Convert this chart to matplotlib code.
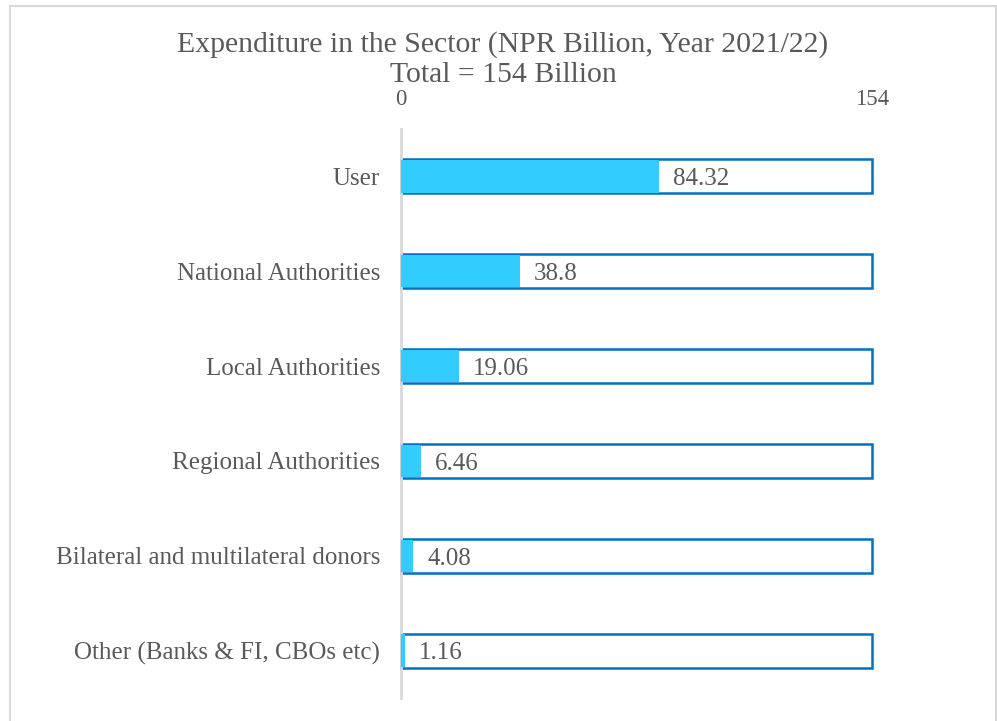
import matplotlib
matplotlib.use("Agg")
import matplotlib.pyplot as plt
from matplotlib.patches import Rectangle

categories = [
    "User",
    "National Authorities",
    "Local Authorities",
    "Regional Authorities",
    "Bilateral and multilateral donors",
    "Other (Banks & FI, CBOs etc)",
]
values = [84.32, 38.8, 19.06, 6.46, 4.08, 1.16]
total = 154
title_lines = ["Expenditure in the Sector (NPR Billion, Year 2021/22)", "Total = 154 Billion"]

TEXT = "#595959"
FILL = "#33CCFF"
EDGE = "#0070C0"

plt.rcParams["font.family"] = ["Liberation Serif", "DejaVu Serif"]

W, H = 997, 721
fig = plt.figure(figsize=(W / 100, H / 100), dpi=100)
ax = fig.add_axes([401 / W, 1 - 698 / H, 471 / W, 569 / H])

ypos = list(range(len(categories)))
bar_h = 0.36

# full-length outline bars showing the total
ax.barh(ypos, [total] * len(ypos), height=bar_h, color="white",
        edgecolor=EDGE, linewidth=1.8, zorder=2, clip_on=False)
# filled share of each category
ax.barh(ypos, values, height=bar_h - 0.02, color=FILL, edgecolor="none",
        zorder=3, clip_on=False)

for y, v in zip(ypos, values):
    ax.annotate(f"{v:g}", xy=(v, y), xytext=(10, -2), textcoords="offset points",
                ha="left", va="center", fontsize=18, color=TEXT, zorder=4)

ax.set_xlim(0, total)
ax.set_ylim(len(categories) - 0.5, -0.5)
ax.set_yticks(ypos)
ax.set_yticklabels(categories, fontsize=18, color=TEXT)
ax.set_xticks([0, total])
ax.set_xticklabels(["0", str(total)], fontsize=16.5, color=TEXT)
ax.xaxis.tick_top()
ax.tick_params(axis="x", length=0, pad=14)
ax.tick_params(axis="y", length=0, pad=15)

for side in ["top", "right", "bottom"]:
    ax.spines[side].set_visible(False)
ax.spines["left"].set_color("#D9D9D9")
ax.spines["left"].set_linewidth(2)

fig.text(503 / W, 1 - 45 / H, title_lines[0], ha="center", va="center",
         fontsize=21.4, color=TEXT)
fig.text(503 / W, 1 - 75 / H, title_lines[1], ha="center", va="center",
         fontsize=21.4, color=TEXT)

# chart area border
fig.patches.append(Rectangle((10 / W, -0.05), 986 / W, 1.05 - 6 / H,
                             transform=fig.transFigure, fill=False,
                             edgecolor="#D9D9D9", linewidth=1.5))

fig.savefig("out.png", dpi=100)
